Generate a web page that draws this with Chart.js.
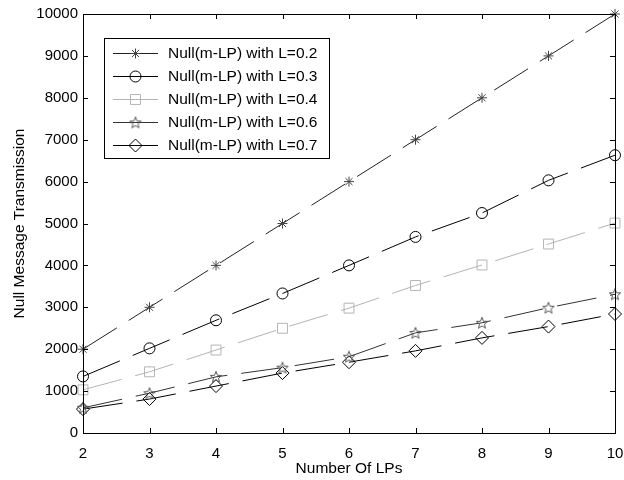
<!DOCTYPE html>
<html lang="en">
<head>
  <meta charset="UTF-8" />
  <title>Null Message Transmission</title>
  <script src="https://cdn.jsdelivr.net/npm/chart.js"></script>
  <style>
    * { margin: 0; padding: 0; }
    body { background: #fff; width: 624px; height: 480px; overflow: hidden; }
    #wrap { width: 624px; height: 480px; }
  </style>
</head>
<body>
<div id="wrap"><canvas id="chart"></canvas></div>
<script>
  // data
  const lpCounts = [2, 3, 4, 5, 6, 7, 8, 9, 10];
  const seriesL02 = [2000, 3000, 4000, 5000, 6000, 7000, 8000, 9000, 10000];
  const seriesL03 = [1350, 2020, 2690, 3330, 4000, 4680, 5250, 6030, 6630];
  const seriesL04 = [1030, 1460, 1980, 2500, 2980, 3520, 4010, 4510, 5010];
  const seriesL06 = [600, 950, 1340, 1560, 1820, 2390, 2630, 2990, 3310];
  const seriesL07 = [570, 810, 1120, 1430, 1690, 1960, 2270, 2540, 2840];
  const seriesLabels = [
    'Null(m-LP) with L=0.2',
    'Null(m-LP) with L=0.3',
    'Null(m-LP) with L=0.4',
    'Null(m-LP) with L=0.6',
    'Null(m-LP) with L=0.7'
  ];
  const yTicks = [0, 1000, 2000, 3000, 4000, 5000, 6000, 7000, 8000, 9000, 10000];

  const FONT = "'Liberation Sans', Arial, sans-serif";

  // five-pointed star marker (not built into Chart.js)
  function pentagram(color) {
    const c = document.createElement('canvas');
    c.width = 14; c.height = 14;
    const g = c.getContext('2d');
    g.strokeStyle = color;
    g.lineWidth = 1;
    g.beginPath();
    for (let i = 0; i < 10; i++) {
      const r = i % 2 === 0 ? 6 : 2.6;
      const a = -Math.PI / 2 + i * Math.PI / 5;
      const px = 7 + r * Math.cos(a), py = 7.5 + r * Math.sin(a);
      i === 0 ? g.moveTo(px, py) : g.lineTo(px, py);
    }
    g.closePath();
    g.stroke();
    return c;
  }

  function pts(values) {
    return lpCounts.map((x, i) => ({ x: x, y: values[i] }));
  }

  const dash = [40, 14];
  const datasets = [
    { label: seriesLabels[0], data: pts(seriesL02), borderColor: '#222', pointBorderColor: '#444', pointStyle: 'star', pointRadius: 5 },
    { label: seriesLabels[1], data: pts(seriesL03), borderColor: '#000', pointBorderColor: '#000', pointStyle: 'circle', pointRadius: 5.5 },
    { label: seriesLabels[2], data: pts(seriesL04), borderColor: '#b4b4b4', pointBorderColor: '#b4b4b4', pointStyle: 'rect', pointRadius: 7 },
    { label: seriesLabels[3], data: pts(seriesL06), borderColor: '#333', pointBorderColor: '#555', pointStyle: pentagram('#555'), pointRadius: 6 },
    { label: seriesLabels[4], data: pts(seriesL07), borderColor: '#000', pointBorderColor: '#000', pointStyle: 'rectRot', pointRadius: 6.5 }
  ].map(d => Object.assign(d, {
    borderWidth: 1,
    borderDash: dash,
    pointBackgroundColor: 'rgba(0,0,0,0)',
    pointBorderWidth: 1,
    pointHoverRadius: d.pointRadius,
    tension: 0,
    fill: false,
    clip: false
  }));

  // box with inward ticks on all four sides
  const boxPlugin = {
    id: 'boxPlugin',
    afterDatasetsDraw(chart) {
      const { ctx, chartArea: a, scales } = chart;
      ctx.save();
      ctx.strokeStyle = '#000';
      ctx.lineWidth = 1;
      ctx.strokeRect(Math.round(a.left) + 0.5, Math.round(a.top) + 0.5,
        Math.round(a.right - a.left), Math.round(a.bottom - a.top));
      ctx.beginPath();
      yTicks.forEach(v => {
        const y = Math.round(scales.y.getPixelForValue(v)) + 0.5;
        ctx.moveTo(a.left, y); ctx.lineTo(a.left + 5, y);
        ctx.moveTo(a.right, y); ctx.lineTo(a.right - 5, y);
      });
      lpCounts.forEach(v => {
        const x = Math.round(scales.x.getPixelForValue(v)) + 0.5;
        ctx.moveTo(x, a.bottom); ctx.lineTo(x, a.bottom - 5);
        ctx.moveTo(x, a.top); ctx.lineTo(x, a.top + 5);
      });
      ctx.stroke();
      ctx.restore();
    }
  };

  // MATLAB-style legend: line sample with marker, then text
  const legendPlugin = {
    id: 'matLegend',
    afterDraw(chart) {
      const { ctx } = chart;
      const bx = 104.5, by = 38.5, bw = 225, bh = 120;
      ctx.save();
      ctx.fillStyle = '#fff';
      ctx.fillRect(bx, by, bw, bh);
      ctx.strokeStyle = '#000';
      ctx.lineWidth = 1;
      ctx.strokeRect(bx, by, bw, bh);
      ctx.font = '15.5px ' + FONT;
      ctx.textBaseline = 'middle';
      chart.data.datasets.forEach((ds, i) => {
        const y = 53 + i * 23;
        ctx.strokeStyle = ds.borderColor;
        ctx.beginPath();
        ctx.moveTo(113, y + 0.5); ctx.lineTo(158, y + 0.5);
        ctx.stroke();
        ctx.strokeStyle = ds.pointBorderColor;
        ctx.fillStyle = 'rgba(0,0,0,0)';
        Chart.helpers.drawPoint(ctx, { pointStyle: ds.pointStyle, radius: ds.pointRadius, borderWidth: 1, rotation: 0 }, 135.5, y + 0.5);
        ctx.fillStyle = '#000';
        ctx.fillText(ds.label, 168, y + 1);
      });
      ctx.restore();
    }
  };

  new Chart(document.getElementById('chart'), {
    type: 'line',
    data: { datasets: datasets },
    plugins: [boxPlugin, legendPlugin],
    options: {
      responsive: true,
      maintainAspectRatio: false,
      animation: false,
      layout: { padding: { top: 14, right: 9, left: 0, bottom: 0 } },
      plugins: { legend: { display: false }, tooltip: { enabled: false } },
      scales: {
        x: {
          type: 'linear', min: 2, max: 10,
          grid: { display: false, drawTicks: false },
          border: { display: false },
          ticks: { stepSize: 1, color: '#000', padding: 12, font: { size: 15, family: FONT } },
          title: { display: true, text: 'Number Of LPs', color: '#000', padding: { top: 0, bottom: 2 }, font: { size: 15.5, family: FONT } },
          afterFit(s) { s.height = 47; s.paddingLeft = 0; s.paddingRight = 0; }
        },
        y: {
          min: 0, max: 10000,
          grid: { display: false, drawTicks: false },
          border: { display: false },
          ticks: { stepSize: 1000, color: '#000', padding: 5, font: { size: 15, family: FONT }, callback: v => String(v) },
          title: { display: true, text: 'Null Message Transmission', color: '#000', padding: { top: 10, bottom: 0 }, font: { size: 15.5, family: FONT } },
          afterFit(s) { s.width = 83; }
        }
      }
    }
  });
</script>
</body>
</html>
